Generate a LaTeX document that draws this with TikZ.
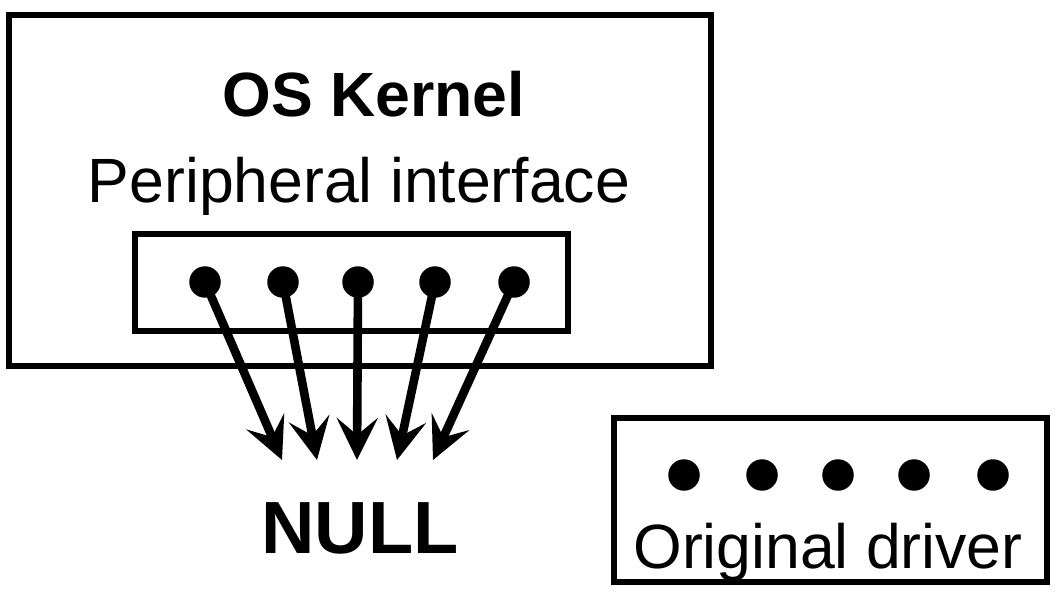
\documentclass[tikz,border=0pt]{standalone}
\usepackage{fontspec}
\setmainfont{Liberation Sans}
\usetikzlibrary{arrows.meta}
\usetikzlibrary{positioning}
\tikzset{>={Stealth[length=0.84cm,width=0.82cm,inset=0.34cm]}}

\begin{document}
\begin{tikzpicture}[x=0.02cm, y=-0.02cm,
	box/.style={draw, line width=3.4pt, inner sep=0pt},
	pin/.style={circle, fill=black, inner sep=0pt, minimum size=0.63cm},
	txt/.style={anchor=base, inner sep=0pt, font=\fontsize{35.6}{42}\selectfont},
	line/.style={draw, line width=4.9pt, ->}]
	\useasboundingbox (0,0) rectangle (1061,601);
	%% Boxes
	\node [box, minimum width=14.04cm, minimum height=7.02cm] (kernel) at (360,190.5) {};
	\node [box, minimum width=8.66cm, minimum height=1.94cm] (iface) at (351.5,282.5) {};
	\node [box, minimum width=8.66cm, minimum height=3.28cm] (driver) at (830.5,500) {};
	%% Labels
	\node [txt, font=\fontsize{35.6}{42}\selectfont\bfseries] (oskernel) at (374,117) {OS Kernel};
	\node [txt] (periph) at (359,203) {Peripheral interface};
	\node [txt, font=\fontsize{42.1}{50}\selectfont\bfseries] (null) at (360,553) {NULL};
	\node [txt] (orig) at (828,568) {Original driver};
	%% Interface pins
	\node [pin] (p1) at (205,282) {};
	\node [pin] (p2) at (283,282) {};
	\node [pin] (p3) at (358,282) {};
	\node [pin] (p4) at (435,282) {};
	\node [pin] (p5) at (514,282) {};
	%% Driver pins
	\node [pin] (d1) at (684,475) {};
	\node [pin] (d2) at (762,475) {};
	\node [pin] (d3) at (838,475) {};
	\node [pin] (d4) at (914,475) {};
	\node [pin] (d5) at (993,475) {};
	%% Arrow ends
	\coordinate (t1) at (282,460);
	\coordinate (t2) at (317,460);
	\coordinate (t3) at (357,460);
	\coordinate (t4) at (397,460);
	\coordinate (t5) at (433,460);
	%% Arrows
	\path [line] (p1.center) to (t1);
	\path [line] (p2.center) to (t2);
	\path [line] (p3.center) to (t3);
	\path [line] (p4.center) to (t4);
	\path [line] (p5.center) to (t5);
\end{tikzpicture}
\end{document}
